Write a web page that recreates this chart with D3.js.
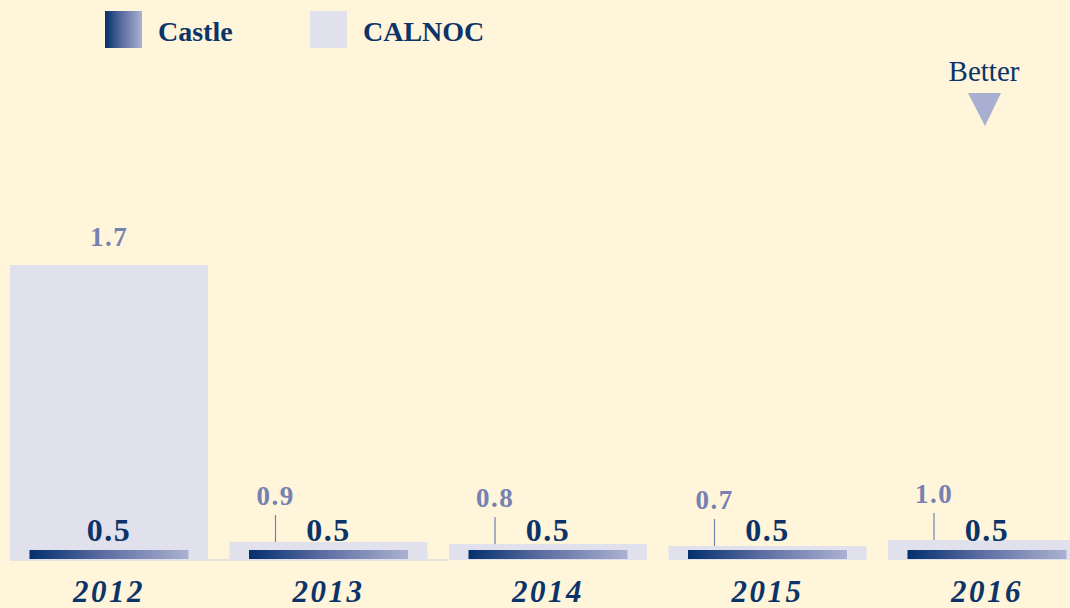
<!DOCTYPE html>
<html>
<head>
<meta charset="utf-8">
<script src="https://cdn.jsdelivr.net/npm/d3@7"></script>
<style>
	html, body { margin: 0; padding: 0; background: #fef5db; }
	svg { display: block; font-family: "Liberation Serif", serif; }
</style>
</head>
<body>
<svg id="chart" width="1070" height="608"></svg>
<script>
	var years = ['2012', '2013', '2014', '2015', '2016'];
	var castle = [0.5, 0.5, 0.5, 0.5, 0.5];
	var calnoc = [1.7, 0.9, 0.8, 0.7, 1.0];
	var calnocLabels = ['1.7', '0.9', '0.8', '0.7', '1.0'];
	var castleLabels = ['0.5', '0.5', '0.5', '0.5', '0.5'];
	var seriesNames = ['Castle', 'CALNOC'];

	var navy = '#0c3468';
	var lavender = '#e1e1ee';
	var labelBlue = '#7681b2';

	var svg = d3.select('#chart');

	var defs = svg.append('defs');
	var grad = defs.append('linearGradient')
		.attr('id', 'castleGrad')
		.attr('x1', '0%').attr('x2', '100%')
		.attr('y1', '0%').attr('y2', '0%');
	grad.append('stop').attr('offset', '0%').attr('stop-color', '#03306d');
	grad.append('stop').attr('offset', '45%').attr('stop-color', '#5a6ba0');
	grad.append('stop').attr('offset', '100%').attr('stop-color', '#abb1d1');

	var x = d3.scaleBand()
		.domain(years)
		.range([-0.75, 1096.75])
		.paddingInner(0.098)
		.paddingOuter(0.049);

	// the 2012 CALNOC bar in the source is drawn far taller than its value,
	// so the y scale has two segments to reproduce that
	var y = d3.scaleLinear()
		.domain([0, 1, 1.7])
		.range([560, 540, 265]);

	var castleWidth = 159;

	var data = years.map(function(yr, i) {
		return { year: yr, castle: castle[i], calnoc: calnoc[i], calnocLabel: calnocLabels[i], castleLabel: castleLabels[i], idx: i };
	});

	// baseline
	svg.append('rect')
		.attr('x', x('2012'))
		.attr('y', y(0) - 1)
		.attr('width', x('2014') - x('2012'))
		.attr('height', 2)
		.attr('fill', '#e4e2e3');

	svg.selectAll('.calnoc')
		.data(data)
		.enter()
		.append('rect')
		.attr('class', 'calnoc')
		.attr('x', d => x(d.year))
		.attr('y', d => y(d.calnoc))
		.attr('width', x.bandwidth())
		.attr('height', d => y(0) - y(d.calnoc))
		.attr('fill', lavender);

	svg.selectAll('.castle')
		.data(data)
		.enter()
		.append('rect')
		.attr('class', 'castle')
		.attr('x', d => x(d.year) + (x.bandwidth() - castleWidth) / 2)
		.attr('y', d => y(d.castle))
		.attr('height', d => y(0) - y(d.castle) - 1)
		.attr('width', castleWidth)
		.attr('fill', 'url(#castleGrad)');

	// leader lines for the small CALNOC bars
	svg.selectAll('.leader')
		.data(data.filter(d => d.idx > 0))
		.enter()
		.append('line')
		.attr('class', 'leader')
		.attr('x1', d => x(d.year) + x.bandwidth() / 2 - 53)
		.attr('x2', d => x(d.year) + x.bandwidth() / 2 - 53)
		.attr('y1', d => y(d.calnoc) - 27)
		.attr('y2', d => y(d.calnoc))
		.attr('stroke', labelBlue)
		.attr('stroke-width', 1.2);

	svg.selectAll('.calnoc-label')
		.data(data)
		.enter()
		.append('text')
		.attr('class', 'calnoc-label')
		.attr('x', d => x(d.year) + x.bandwidth() / 2 - (d.idx > 0 ? 53 : 0))
		.attr('y', d => y(d.calnoc) - (d.idx > 0 ? 37 : 19))
		.attr('text-anchor', 'middle')
		.attr('fill', labelBlue)
		.attr('font-weight', 'bold')
		.attr('font-size', 27)
		.attr('letter-spacing', 1.5)
		.text(d => d.calnocLabel);

	svg.selectAll('.castle-label')
		.data(data)
		.enter()
		.append('text')
		.attr('class', 'castle-label')
		.attr('x', d => x(d.year) + x.bandwidth() / 2)
		.attr('y', d => y(d.castle) - 9)
		.attr('text-anchor', 'middle')
		.attr('fill', navy)
		.attr('font-weight', 'bold')
		.attr('font-size', 32)
		.attr('letter-spacing', 1.5)
		.text(d => d.castleLabel);

	svg.selectAll('.year')
		.data(years)
		.enter()
		.append('text')
		.attr('class', 'year')
		.attr('x', d => x(d) + x.bandwidth() / 2)
		.attr('y', 602)
		.attr('text-anchor', 'middle')
		.attr('fill', navy)
		.attr('font-weight', 'bold')
		.attr('font-style', 'italic')
		.attr('font-size', 31)
		.attr('letter-spacing', 2.5)
		.text(d => d);

	// legend
	var legendX = [105, 310];
	var legend = svg.selectAll('.legend')
		.data(seriesNames)
		.enter()
		.append('g')
		.attr('class', 'legend')
		.attr('transform', (d, i) => 'translate(' + legendX[i] + ',11)');
	legend.append('rect')
		.attr('width', 37)
		.attr('height', 37)
		.attr('fill', (d, i) => i == 0 ? 'url(#castleGrad)' : lavender);
	legend.append('text')
		.attr('x', 53)
		.attr('y', 30)
		.attr('fill', navy)
		.attr('font-weight', 'bold')
		.attr('font-size', 28)
		.text(d => d);

	// "Better" marker
	svg.append('text')
		.attr('x', 984)
		.attr('y', 81)
		.attr('text-anchor', 'middle')
		.attr('fill', navy)
		.attr('font-size', 29)
		.text('Better');
	svg.append('path')
		.attr('d', d3.line()([[968, 93], [1001, 93], [985, 126]]) + 'Z')
		.attr('fill', '#a9afd0');
</script>
</body>
</html>
